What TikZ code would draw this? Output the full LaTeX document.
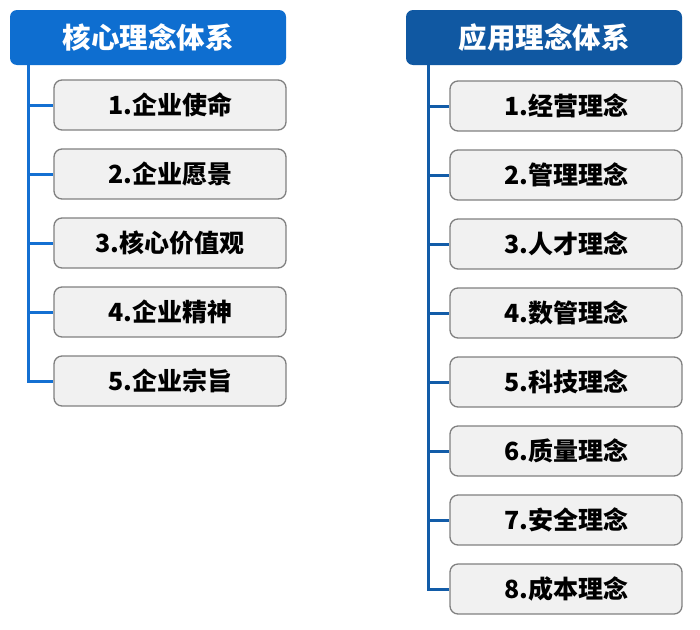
\documentclass[tikz,border=0pt]{standalone}
\usepackage{fontspec}
\setmainfont{Noto Sans CJK SC}
\definecolor{hdrL}{RGB}{14,110,208}
\definecolor{hdrR}{RGB}{16,88,162}
\definecolor{lineL}{RGB}{20,112,210}
\definecolor{lineR}{RGB}{18,92,168}
\definecolor{boxfill}{RGB}{241,241,241}
\definecolor{boxline}{RGB}{128,128,128}
\tikzset{
  hdr/.style={rounded corners=7pt, minimum width=276pt, minimum height=55pt, inner sep=0pt,
    text=white, font=\bfseries\fontsize{28.5}{32}\selectfont},
  item/.style={draw=boxline, line width=1.3pt, fill=boxfill, rounded corners=8pt,
    minimum width=232pt, minimum height=50pt, inner sep=0pt,
    font=\bfseries\fontsize{25}{29}\selectfont},
  conn/.style={line width=3pt}
}
\begin{document}
\begin{tikzpicture}[x=1pt,y=-1pt]
\useasboundingbox (0,0) rectangle (700,629);
% headers
\node[hdr, fill=hdrL] (hl) at (148,37.5) {核心理念体系};
\node[hdr, fill=hdrR] (hr) at (544,37.5) {应用理念体系};
\coordinate (tl) at (28,65);
\coordinate (tr) at (428,65);
% left items
\foreach \i/\t in {1/1.企业使命,2/2.企业愿景,3/3.核心价值观,4/4.企业精神,5/5.企业宗旨}{
  \node[item] (l\i) at (170,{105+69*(\i-1)}) {\t};
}
% right items
\foreach \i/\t in {1/1.经营理念,2/2.管理理念,3/3.人才理念,4/4.数管理念,5/5.科技理念,6/6.质量理念,7/7.安全理念,8/8.成本理念}{
  \node[item] (r\i) at (566,{106+69*(\i-1)}) {\t};
}
% connectors
\draw[conn, draw=lineL] (tl) |- (l5.west);
\foreach \i in {1,2,3,4}{ \draw[conn, draw=lineL] (tl |- l\i.west) -- (l\i.west); }
\draw[conn, draw=lineR] (tr) |- (r8.west);
\foreach \i in {1,2,3,4,5,6,7}{ \draw[conn, draw=lineR] (tr |- r\i.west) -- (r\i.west); }
\end{tikzpicture}
\end{document}
